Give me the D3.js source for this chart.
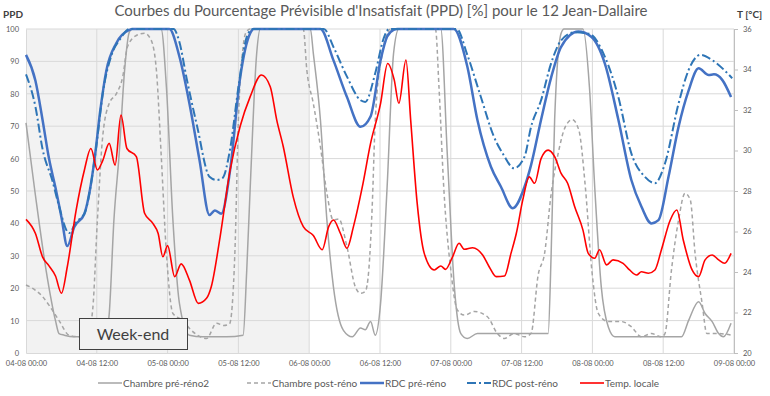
<!doctype html>
<html>
<head>
<meta charset="utf-8"/>
<style>
  html, body { margin: 0; padding: 0; background: #fff; }
  svg { display: block; font-family: Lato, "Open Sans", sans-serif; }
</style>
<script src="https://d3js.org/d3.v7.min.js"></script>
</head>
<body>
<svg id="chart" width="770" height="396"></svg>
<script>
// hours since 04-08 00:00
var chambrePre = [[0,71],[1.5,50],[3.4,25.6],[5,10],[5.6,6],[6.5,5.5],[8,5],[10,5],[12,5],[13.5,5.5],[14.1,12],[14.9,41],[15.8,61.6],[16.7,87],[17.5,99],[18,100],[22.9,100],[23.8,82],[24.9,41],[26,15.4],[27.7,5.5],[30,5],[34,5],[36.8,5.5],[37.4,25],[38,51],[39.1,92.5],[39.7,100],[48.2,100],[48.7,92.5],[49.9,72],[51,41],[52.1,20.5],[53.8,7],[55.3,5],[56.7,7.7],[57.5,7.2],[58.4,9.7],[59.2,5.5],[60.1,15.4],[61.2,51],[62.3,92.5],[63.2,100],[70.3,100],[71.4,61.6],[72.6,20.5],[73.7,6],[74.8,4.5],[76.5,6],[88.5,6],[89,30],[89.6,72],[90.7,98.7],[91.2,100],[94.4,100],[95.5,82],[96.4,51],[97.5,20.5],[98.7,8],[99.8,5],[111.1,5],[112.3,10],[114,15.8],[115.1,12.2],[116.3,9.7],[117.4,6],[118.2,5],[119.5,9.2]];

var chambrePost = [[0,21],[1.5,19.5],[2.8,17.4],[4,14.5],[5.6,10],[7.3,5.5],[9,5],[10.5,6],[11.3,13.3],[12.1,41],[13,66.8],[14.1,77],[15.3,80],[16.4,85.3],[17.2,94.5],[18.7,98],[20.1,98.7],[21.2,96.6],[22.1,87.3],[22.9,61.6],[23.8,30.8],[24.9,12.2],[26.6,10],[27.7,7.6],[30.6,4.5],[32.3,9.2],[33.5,8.5],[34.5,9],[35.4,30.8],[36,72],[36.8,94.5],[37.3,99],[38,100],[47,100],[47.6,87.3],[48.7,77],[49.9,63.7],[51,49.3],[52.1,41],[53,41.4],[54.4,32.8],[55.8,20.5],[56.7,18.4],[57.5,19],[58.1,25.6],[58.7,46.2],[59.2,72],[60.4,92.5],[61.8,100],[69.4,100],[70,82],[70.8,51.3],[72,25.6],[73.1,13.3],[74.3,11.7],[76,12.8],[78.2,11.2],[79.9,6],[81.1,4.5],[82.7,6],[84.5,5],[85.6,6],[86.8,24],[87.9,30.8],[89,49],[90.2,61.6],[91.4,69.8],[92.6,72],[93.7,68.8],[94.8,51.3],[95.9,25.6],[97,12.2],[98.7,9.7],[100.9,9.7],[102.6,8.1],[104.3,5],[106,6],[107.7,5],[108.3,6],[109.4,25.6],[110.6,41],[111.7,49.3],[112.6,47.2],[113.4,30.8],[114.6,15.3],[115.4,6],[117.4,6],[119.5,5.5]];

var rdcPre = [[0,92],[1.6,84],[2.8,72],[3.9,60],[5,51],[6,42],[7,33],[8.2,39],[9.9,43],[10.8,50],[11.6,59.6],[12.6,75],[13.6,87],[15.3,95.6],[17.5,99.7],[18,100],[24.3,100],[26,91.5],[27.7,77],[29.4,59.6],[31.1,42.6],[32,44],[33.1,43],[34.6,56.5],[36.3,85],[38,98.7],[38.6,100],[49.9,100],[52.1,90.4],[54.4,79],[56.7,69.8],[58.4,73],[60.1,90.4],[61.2,97.6],[62.3,99.7],[63,100],[72.5,100],[74.8,88.4],[76.5,72],[78.8,57.5],[80.5,51.3],[82.5,44.7],[84.5,51.3],[85.6,58],[87.3,72],[89,85],[90.7,94.5],[93.6,99.2],[95.8,97.6],[98.1,89.4],[100.4,72],[102.6,53.4],[104.3,45.2],[106,40],[107.2,41],[108.9,54.4],[110.6,69.8],[112.3,81],[114,87.9],[115.7,85.8],[116.6,86],[118,84.3],[119.5,79]];

var rdcPost = [[0,86],[1.6,76],[2.8,63],[4.5,53],[5.5,46],[7.3,37],[8.5,40.4],[9.9,43],[11,52],[12,65],[13,80],[14.5,92],[16,97],[17.5,100],[25,100],[26,96],[27.2,85],[29,70],[31.1,54.4],[32.3,53.4],[33.3,54],[34.6,63],[36,82],[37.5,98],[38.5,100],[50.5,100],[52.1,94.5],[54.4,85.3],[56.7,78],[57.5,77.5],[59.2,86.4],[60.6,97],[61.5,100],[73,100],[74.8,92],[77.1,79],[79.3,66.8],[81,61],[82.7,57],[84.5,60.6],[85.6,69.8],[87.3,78],[89,89.4],[90.7,96.5],[93,99],[95.5,98.5],[98.1,91.5],[100.4,79],[102.6,61.6],[104.9,54.4],[106.6,52.4],[108.3,58.5],[110.6,77],[112.3,87.3],[114.3,92],[116.3,90.4],[119.7,84.8]];

var tempLocale = [[0,26.6],[1.6,25.9],[2.8,24.75],[3.9,24.3],[5,23.8],[6,22.95],[7,24.26],[8.5,27.06],[9.9,29.04],[11,30.1],[12.1,29.04],[13,29.5],[14.1,30.35],[15.1,29.28],[16.1,31.75],[17.1,30.1],[18.7,29.7],[20.1,26.9],[21.5,26.4],[22.4,25.9],[23.2,24.75],[24,25.3],[25.2,23.77],[26.3,24.4],[27.7,23.6],[29.2,22.45],[30.6,22.7],[31.4,23.27],[32.9,25.74],[34.6,29.04],[36.3,31.2],[38,32.66],[39.9,33.73],[41.4,33.15],[42.5,31.5],[43.6,30.2],[45.3,27.7],[47,26.24],[48.7,25.8],[50.2,25.1],[51.3,26.24],[52.1,26.57],[53.3,25.9],[54.4,25.17],[55.5,26.24],[57,28.2],[58.4,30.35],[60.1,32.33],[61.3,34.3],[62.4,33.5],[63.2,32.33],[64.4,34.47],[65.2,31.5],[66.3,27.4],[67.5,24.92],[69.2,24.1],[70.3,24.3],[71.1,24.13],[72.3,24.75],[73.4,25.42],[74.3,25.12],[75.7,25.2],[77.4,24.84],[78.5,24.26],[79.7,23.77],[81.1,23.8],[82.2,24.92],[83.1,25.9],[84.2,27.56],[85.3,28.7],[86.2,28.38],[87.3,29.6],[88.5,30.02],[89.6,29.7],[90.7,28.87],[91.8,28.38],[93,27.22],[94.4,26.07],[95.3,24.92],[96.4,24.68],[97.2,25.1],[98.4,24.35],[99.5,24.6],[101.2,24.43],[102.3,24.1],[103.5,23.85],[104.3,24.01],[105.5,23.94],[106.6,24.1],[107.7,25.1],[109.2,26.57],[110.3,27.06],[111.4,25.58],[112.9,24.1],[114,23.77],[115.1,24.6],[116.3,24.84],[117.4,24.6],[118.4,24.43],[119.5,24.92]];

var xTickLabels = ["04-08 00:00","04-08 12:00","05-08 00:00","05-08 12:00","06-08 00:00","06-08 12:00","07-08 00:00","07-08 12:00","08-08 00:00","08-08 12:00","09-08 00:00"];
var ppdTicks = [0,10,20,30,40,50,60,70,80,90,100];
var tTicks = [20,22,24,26,28,30,32,34,36];
var weekendHours = [0, 48];

var series = [
  {name: "Chambre pré-réno2", data: chambrePre, axis: "left", color: "#a5a5a5", width: 1.5, dash: null},
  {name: "Chambre post-réno", data: chambrePost, axis: "left", color: "#a5a5a5", width: 1.5, dash: "4,3"},
  {name: "RDC pré-réno", data: rdcPre, axis: "left", color: "#4472c4", width: 2.5, dash: null},
  {name: "RDC post-réno", data: rdcPost, axis: "left", color: "#2e75b6", width: 2, dash: "9,3,2,3"},
  {name: "Temp. locale", data: tempLocale, axis: "right", color: "#ff0000", width: 1.6, dash: null}
];

(function() {
  var svg = d3.select("#chart");
  var mLeft = 26, mRight = 734, mTop = 29, mBottom = 353;

  var x = d3.scaleLinear().domain([0, 120]).range([mLeft, mRight]);
  var yL = d3.scaleLinear().domain([0, 100]).range([mBottom, mTop]);
  var yR = d3.scaleLinear().domain([20, 36]).range([mBottom, mTop]);

  // week-end shading
  svg.append("rect")
    .attr("x", x(weekendHours[0])).attr("y", mTop)
    .attr("width", x(weekendHours[1]) - x(weekendHours[0]))
    .attr("height", mBottom - mTop)
    .attr("fill", "#f2f2f2");

  // gridlines
  svg.append("g").selectAll("line").data(ppdTicks.slice(1)).enter().append("line")
    .attr("x1", mLeft).attr("x2", mRight)
    .attr("y1", function(d) { return yL(d); }).attr("y2", function(d) { return yL(d); })
    .attr("stroke", "#d9d9d9").attr("stroke-width", 1);
  svg.append("g").selectAll("line").data(d3.range(1, xTickLabels.length)).enter().append("line")
    .attr("x1", function(i) { return x(i * 12); }).attr("x2", function(i) { return x(i * 12); })
    .attr("y1", mTop).attr("y2", mBottom)
    .attr("stroke", "#d9d9d9").attr("stroke-width", 1);

  // axes
  var xAxis = d3.axisBottom(x).tickValues(d3.range(0, 121, 12))
    .tickFormat(function(d, i) { return xTickLabels[i]; }).tickSize(0).tickPadding(8);
  var gx = svg.append("g").attr("transform", "translate(0," + mBottom + ")").call(xAxis);
  gx.select(".domain").attr("stroke", "#d9d9d9");
  gx.selectAll("text").attr("fill", "#595959").style("font-size", "7.5px").style("font-family", "Lato, sans-serif");

  var gl = svg.append("g").attr("transform", "translate(" + mLeft + ",0)")
    .call(d3.axisLeft(yL).tickValues(ppdTicks).tickSize(0).tickPadding(7));
  gl.select(".domain").attr("stroke", "#d9d9d9");
  gl.selectAll("text").attr("fill", "#595959").style("font-size", "7.5px").style("font-family", "Lato, sans-serif");

  var gr = svg.append("g").attr("transform", "translate(" + mRight + ",0)")
    .call(d3.axisRight(yR).tickValues(tTicks).tickSize(4).tickPadding(5));
  gr.select(".domain").attr("stroke", "#bfbfbf");
  gr.selectAll(".tick line").attr("stroke", "#bfbfbf");
  gr.selectAll("text").attr("fill", "#595959").style("font-size", "7.5px").style("font-family", "Lato, sans-serif");

  // lines
  var plot = svg.append("g");
  series.forEach(function(s) {
    var yScale = s.axis === "left" ? yL : yR;
    var line = d3.line()
      .x(function(d) { return x(d[0]); })
      .y(function(d) { return yScale(d[1]); })
      .curve(d3.curveMonotoneX);
    plot.append("path")
      .datum(s.data)
      .attr("d", line)
      .attr("fill", "none")
      .attr("stroke", s.color)
      .attr("stroke-width", s.width)
      .attr("stroke-dasharray", s.dash)
      .attr("stroke-linejoin", "round");
  });

  // week-end label
  svg.append("rect")
    .attr("x", 79.5).attr("y", 318.5).attr("width", 108).attr("height", 31)
    .attr("fill", "#f2f2f2").attr("stroke", "#404040").attr("stroke-width", 1);
  svg.append("text")
    .attr("x", 133).attr("y", 340)
    .attr("text-anchor", "middle")
    .attr("fill", "#404040")
    .style("font-size", "16px")
    .text("Week-end");

  // title and axis titles
  svg.append("text")
    .attr("x", 381).attr("y", 16)
    .attr("text-anchor", "middle")
    .attr("fill", "#595959")
    .style("font-size", "15px")
    .text("Courbes du Pourcentage Prévisible d'Insatisfait (PPD) [%] pour le 12 Jean-Dallaire");
  svg.append("text")
    .attr("x", 3).attr("y", 18)
    .attr("fill", "#404040")
    .style("font-size", "10px").style("font-weight", "bold")
    .text("PPD");
  svg.append("text")
    .attr("x", 737).attr("y", 18)
    .attr("fill", "#404040")
    .style("font-size", "10px").style("font-weight", "bold")
    .text("T [°C]");

  // legend
  var legendX = [98, 247, 360, 467, 580];
  var legend = svg.append("g");
  series.forEach(function(s, i) {
    var g = legend.append("g").attr("transform", "translate(" + legendX[i] + ",383)");
    g.append("line")
      .attr("x1", 0).attr("x2", 24).attr("y1", 0).attr("y2", 0)
      .attr("stroke", s.color)
      .attr("stroke-width", s.width)
      .attr("stroke-dasharray", s.dash);
    g.append("text")
      .attr("x", 25).attr("y", 4)
      .attr("fill", "#595959")
      .style("font-size", "10px")
      .text(s.name);
  });
})();
</script>
</body>
</html>
